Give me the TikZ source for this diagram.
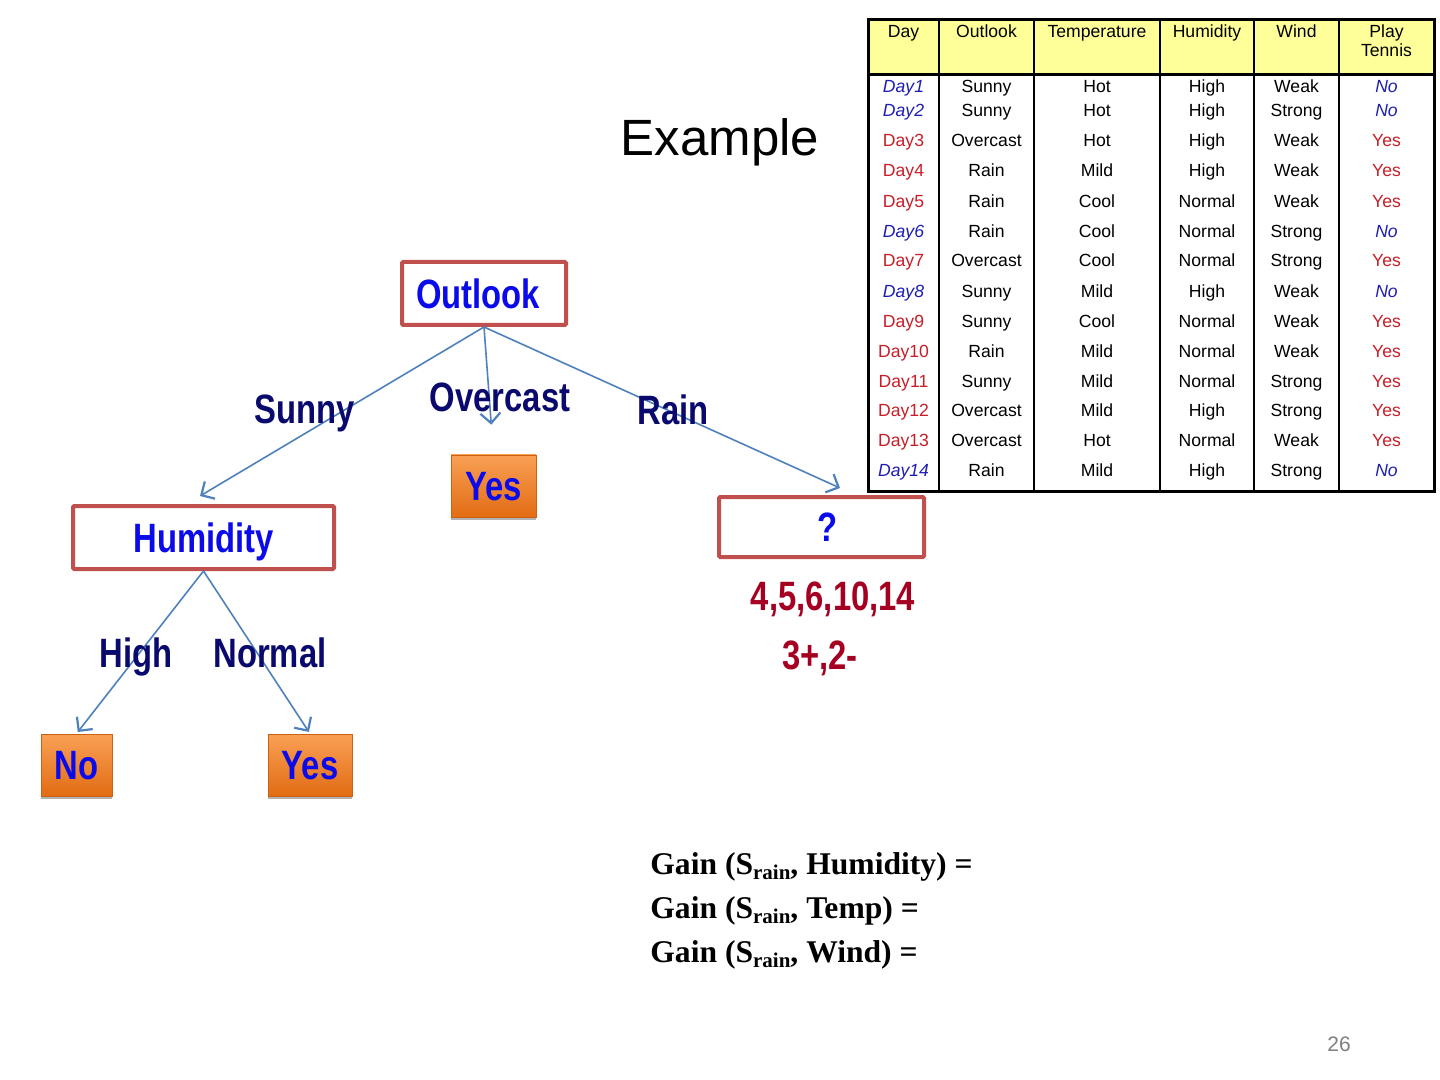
\documentclass[tikz,border=0pt]{standalone}
\usepackage{fontspec}
\setmainfont{Liberation Sans}
\newfontfamily\narrowfont[FakeStretch=0.8]{Liberation Sans}
\newfontfamily\gainfont{Liberation Serif}
\usetikzlibrary{arrows.meta,shadows}
\definecolor{boxred}{RGB}{192,80,77}
\definecolor{edgeblue}{RGB}{79,129,189}
\definecolor{labnavy}{RGB}{10,10,110}
\definecolor{txtblue}{RGB}{10,10,235}
\definecolor{darkred}{RGB}{165,0,33}
\definecolor{tabred}{RGB}{200,30,40}
\definecolor{tabblue}{RGB}{30,30,180}
\definecolor{hdryellow}{RGB}{255,255,153}
\definecolor{orangetop}{RGB}{249,160,85}
\definecolor{orangebot}{RGB}{226,108,20}
\newcommand\mytabfont{\fontsize{8.8}{10}\selectfont}
\newcommand\mybigfont{\narrowfont\bfseries\fontsize{20.5}{24}\selectfont}
\newcommand\mysub[1]{\raisebox{-0.4ex}{\fontsize{10.5}{11}\selectfont #1}}
\begin{document}
\begin{tikzpicture}[x=0.5pt,y=-0.5pt,
  attr/.style={draw=boxred, line width=2pt, fill=white, rounded corners=0.6pt, inner sep=0pt,
    font=\mybigfont, text=txtblue, text height=14.7pt, text depth=0pt},
  leaf/.style={draw=orangebot!90!black, line width=0.4pt, top color=orangetop, bottom color=orangebot,
    drop shadow={shadow xshift=0pt,shadow yshift=-1.5pt,fill=gray,opacity=0.6},
    inner sep=0pt, font=\mybigfont, text=txtblue, text height=14.7pt, text depth=0pt},
  lab/.style={font=\mybigfont, text=labnavy, inner sep=0pt, text height=14.7pt, text depth=0pt},
  count/.style={font=\mybigfont, text=darkred, inner sep=0pt, text height=14.7pt, text depth=0pt},
  edge/.style={draw=edgeblue, line width=0.8pt, -{Straight Barb[length=5pt,width=10pt,line width=1.1pt]}},
  cell/.style={font=\mytabfont, inner sep=0pt, text height=6.3pt, text depth=0pt},
  yescell/.style={cell, text=tabred},
  nocell/.style={cell, text=tabblue, font=\mytabfont\itshape},
  gain/.style={font=\gainfont\bfseries\fontsize{15.8}{20}\selectfont, anchor=base west, inner sep=0pt}
]
\useasboundingbox (0,0) rectangle (1440,1080);
\fill[white] (0,0) rectangle (1440,1080);

% title
\node[font=\fontsize{25.5}{30}\selectfont, text height=18.3pt, text depth=0pt, inner sep=0pt] (title) at (720,137) {Example};

% table
\fill[hdryellow] (868,20) rectangle (1434,75);
\foreach \x in {939,1034,1160,1254,1339} \draw[line width=1pt] (\x,20) -- (\x,491);
\draw[line width=1.5pt] (868,75) -- (1434,75);
\draw[line width=1.5pt] (868,20) rectangle (1434,491);
\node[cell] (hday) at (903.5,31) {Day};
\node[cell] (hout) at (986.5,31) {Outlook};
\node[cell] (htmp) at (1097,31) {Temperature};
\node[cell] (hhum) at (1207,31) {Humidity};
\node[cell] (hwin) at (1296.5,31) {Wind};
\node[cell] (hpl1) at (1386.5,31) {Play};
\node[cell] (hpl2) at (1386.5,50.5) {Tennis};
\foreach \n/\o/\t/\h/\w/\p/\y/\s in {
  1/Sunny/Hot/High/Weak/No/86/nocell,
  2/Sunny/Hot/High/Strong/No/110/nocell,
  3/Overcast/Hot/High/Weak/Yes/140/yescell,
  4/Rain/Mild/High/Weak/Yes/170/yescell,
  5/Rain/Cool/Normal/Weak/Yes/201/yescell,
  6/Rain/Cool/Normal/Strong/No/231/nocell,
  7/Overcast/Cool/Normal/Strong/Yes/260/yescell,
  8/Sunny/Mild/High/Weak/No/291/nocell,
  9/Sunny/Cool/Normal/Weak/Yes/321/yescell,
  10/Rain/Mild/Normal/Weak/Yes/351/yescell,
  11/Sunny/Mild/Normal/Strong/Yes/381/yescell,
  12/Overcast/Mild/High/Strong/Yes/410/yescell,
  13/Overcast/Hot/Normal/Weak/Yes/440/yescell,
  14/Rain/Mild/High/Strong/No/470/nocell}{
  \node[\s] (d\n) at (903.5,\y) {Day\n};
  \node[cell] (o\n) at (986.5,\y) {\o};
  \node[cell] (t\n) at (1097,\y) {\t};
  \node[cell] (h\n) at (1207,\y) {\h};
  \node[cell] (w\n) at (1296.5,\y) {\w};
  \node[\s] (p\n) at (1386.5,\y) {\p};
}

% tree nodes
\node[attr, minimum width=82pt, minimum height=31.5pt] (outlook) at (484,293.5) {\hspace{-6pt}Outlook};
\node[attr, minimum width=130.5pt, minimum height=31.5pt] (hum) at (203.5,537.5) {Humidity};
\node[attr, minimum width=102.5pt, minimum height=30pt] (q) at (821.5,527) {\hspace{6pt}?};
\node[leaf, minimum width=42.5pt, minimum height=31pt] (yes1) at (493.5,486) {Yes};
\node[leaf, minimum width=35.5pt, minimum height=31pt] (no) at (76.5,765) {No};
\node[leaf, minimum width=42pt, minimum height=31pt] (yes2) at (310,765) {Yes};

\coordinate (sunnyend) at (200,496);
\coordinate (rainend) at (840,488);

% edges
\draw[edge] (outlook.south) -- (sunnyend);
\draw[edge, shorten >=15pt] (outlook.south) -- (yes1.north);
\draw[edge] (outlook.south) -- (rainend);
\draw[edge, shorten >=1pt] (hum.south) -- (no.north);
\draw[edge, shorten >=1pt] (hum.south) -- (yes2.north);

% edge labels
\node[lab] (lsunny) at (305,409) {Sunny};
\node[lab] (lover) at (500,397) {Overcast};
\node[lab] (lrain) at (673,410) {Rain};
\node[lab] (lhigh) at (136,653) {High};
\node[lab] (lnorm) at (270,653) {Normal};

% counts
\node[count] (days) at (833,596) {4,5,6,10,14};
\node[count] (pm) at (820,655) {3+,2-};

% gain lines
\node[gain] (g1) at (650,874) {Gain (S\mysub{rain}, Humidity) =};
\node[gain] (g2) at (650,918) {Gain (S\mysub{rain}, Temp) =};
\node[gain] (g3) at (650,962) {Gain (S\mysub{rain}, Wind) =};

% page number
\node[font=\fontsize{10.5}{12}\selectfont, text=gray, inner sep=0pt] (page) at (1339,1044) {26};
\end{tikzpicture}
\end{document}
